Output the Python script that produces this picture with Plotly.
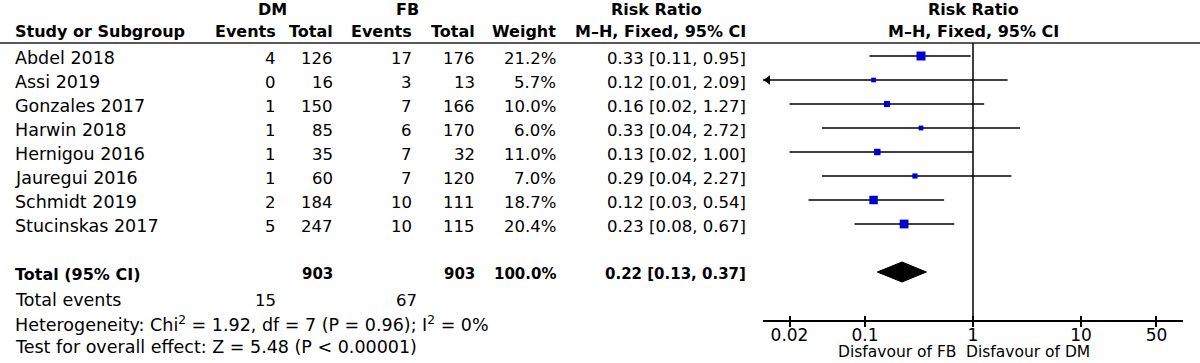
import math
import plotly.graph_objects as go

# ---------------- data ----------------
studies = ["Abdel 2018", "Assi 2019", "Gonzales 2017", "Harwin 2018",
           "Hernigou 2016", "Jauregui 2016", "Schmidt 2019", "Stucinskas 2017"]
dm_events = [4, 0, 1, 1, 1, 1, 2, 5]
dm_total = [126, 16, 150, 85, 35, 60, 184, 247]
fb_events = [17, 3, 7, 6, 7, 7, 10, 10]
fb_total = [176, 13, 166, 170, 32, 120, 111, 115]
weights = [21.2, 5.7, 10.0, 6.0, 11.0, 7.0, 18.7, 20.4]
rr = [0.33, 0.12, 0.16, 0.33, 0.13, 0.29, 0.12, 0.23]
ci_low = [0.11, 0.01, 0.02, 0.04, 0.02, 0.04, 0.03, 0.08]
ci_high = [0.95, 2.09, 1.27, 2.72, 1.00, 2.27, 0.54, 0.67]
pooled_rr = 0.22
pooled_low = 0.13
pooled_high = 0.37
tick_vals = [0.02, 0.1, 1, 10, 50]
tick_text = ["0.02", "0.1", "1", "10", "50"]
heterogeneity_text = "Heterogeneity: Chi<sup>2</sup> = 1.92, df = 7 (P = 0.96); I<sup>2</sup> = 0%"
overall_text = "Test for overall effect: Z = 5.48 (P < 0.00001)"
left_label = "Disfavour of FB"
right_label = "Disfavour of DM"

# ---------------- layout geometry (pixels) ----------------
W, H = 1200, 363
ROW0, ROWH = 56, 24          # pixel of first study row, row spacing
X_ONE, DEC = 973, 108        # pixel of RR=1, pixels per decade
AX_L, AX_R = 763, 1183       # forest axis extent
AX_Y = 321                   # forest axis line pixel
HEAD_LINE = 43
LEFT = 13

FONT = "DejaVu Sans"
REG_T = 17.5
REG_N = 16.5
BOLD_H = 16
BOLD_N = 15

def row_of(px):
    return (px - ROW0) / ROWH

x_range = [(AX_L - X_ONE) / DEC, (AX_R - X_ONE) / DEC]
y_range = [row_of(H), row_of(0)]

fig = go.Figure()

n = len(studies)
rows = list(range(n))
total_row = n + 1

# CI lines
xmin = 10 ** x_range[0]
lx, ly = [], []
for i in rows:
    lx += [max(ci_low[i], xmin), ci_high[i], None]
    ly += [i, i, None]
fig.add_trace(go.Scatter(x=lx, y=ly, mode="lines",
                         line=dict(color="black", width=1.3),
                         hoverinfo="skip", showlegend=False))

# arrows for truncated CIs
arr_x = [10 ** (x_range[0] + 4.9 / DEC) for i in rows if ci_low[i] < xmin]
arr_y = [i for i in rows if ci_low[i] < xmin]
fig.add_trace(go.Scatter(x=arr_x, y=arr_y, mode="markers",
                         marker=dict(symbol="triangle-left", size=8.5, color="black",
                                     line=dict(width=0)),
                         hoverinfo="skip", showlegend=False))

# study squares
fig.add_trace(go.Scatter(x=rr, y=rows, mode="markers",
                         marker=dict(symbol="square", color="#0000cc", opacity=1,
                                     size=[1.95 * math.sqrt(w) for w in weights],
                                     line=dict(width=0)),
                         hoverinfo="skip", showlegend=False))

# pooled diamond
dh = 10 / ROWH
fig.add_trace(go.Scatter(x=[pooled_low, pooled_rr, pooled_high, pooled_rr, pooled_low],
                         y=[total_row, total_row - dh, total_row, total_row + dh, total_row],
                         mode="lines", fill="toself", fillcolor="black",
                         line=dict(color="black", width=1),
                         hoverinfo="skip", showlegend=False))

# line of no effect
fig.add_trace(go.Scatter(x=[1, 1], y=[row_of(HEAD_LINE), row_of(AX_Y)], mode="lines",
                         line=dict(color="black", width=1.5),
                         hoverinfo="skip", showlegend=False))

# invisible trace for secondary (upward ticks) axis
fig.add_trace(go.Scatter(x=[1], y=[0], xaxis="x2", mode="markers",
                         marker=dict(opacity=0), hoverinfo="skip", showlegend=False))

anns = []

def ann(text, xpx, row, anchor="right", bold=False, size=REG_N):
    t = f"<b>{text}</b>" if bold else text
    anns.append(dict(text=t, x=xpx / W, xref="paper", y=row, yref="y",
                     xanchor=anchor, yanchor="middle", showarrow=False,
                     font=dict(family=FONT, size=size, color="black")))

TOFF = 2 / ROWH
# headers
hr1, hr2 = row_of(9.5), row_of(31)
ann("DM", 272, hr1, "center", True, BOLD_H)
ann("FB", 407, hr1, "center", True, BOLD_H)
ann("Risk Ratio", 656, hr1, "center", True, BOLD_H)
ann("Risk Ratio", X_ONE, hr1, "center", True, BOLD_H)
ann("Study or Subgroup", LEFT, hr2, "left", True, BOLD_H)
ann("Events", 278, hr2, "right", True, BOLD_H)
ann("Total", 335, hr2, "right", True, BOLD_H)
ann("Events", 414, hr2, "right", True, BOLD_H)
ann("Total", 477, hr2, "right", True, BOLD_H)
ann("Weight", 558, hr2, "right", True, BOLD_H)
ann("M\u2013H, Fixed, 95% CI", 748, hr2, "right", True, BOLD_H)
ann("M\u2013H, Fixed, 95% CI", X_ONE, hr2, "center", True, BOLD_H)

# study rows
for i in rows:
    r = i + TOFF
    ann(studies[i], LEFT, r, "left", size=REG_T)
    ann(str(dm_events[i]), 278, r)
    ann(str(dm_total[i]), 335, r)
    ann(str(fb_events[i]), 414, r)
    ann(str(fb_total[i]), 477, r)
    ann(f"{weights[i]:.1f}%", 558, r)
    ann(f"{rr[i]:.2f} [{ci_low[i]:.2f}, {ci_high[i]:.2f}]", 748, r)

# total row
tr = total_row + TOFF
ann("Total (95% CI)", LEFT, tr, "left", True, BOLD_H)
ann(str(sum(dm_total)), 335, tr, "right", True, BOLD_N)
ann(str(sum(fb_total)), 477, tr, "right", True, BOLD_N)
ann(f"{sum(weights):.1f}%", 558, tr, "right", True, BOLD_N)
ann(f"{pooled_rr:.2f} [{pooled_low:.2f}, {pooled_high:.2f}]", 748, tr, "right", True, BOLD_N)

er = row_of(300)
ann("Total events", LEFT, er, "left", size=REG_T)
ann(str(sum(dm_events)), 278, er)
ann(str(sum(fb_events)), 419, er)
ann(heterogeneity_text, LEFT, row_of(323.5), "left", size=REG_T)
ann(overall_text, LEFT, row_of(346.5), "left", size=REG_T)

# favour labels (sit on the bottom edge)
for txt, xp, anc in [(left_label, 958, "right"), (right_label, 964, "left")]:
    anns.append(dict(text=txt, x=xp / W, xref="paper", y=0, yref="paper",
                     xanchor=anc, yanchor="bottom", yshift=0, showarrow=False,
                     font=dict(family=FONT, size=15.5, color="black")))

shapes = [dict(type="line", xref="paper", yref="paper", x0=0, x1=1,
               y0=(H - HEAD_LINE) / H, y1=(H - HEAD_LINE) / H,
               line=dict(color="#222", width=1.5))]

axis_common = dict(type="log", range=x_range, domain=[AX_L / W, AX_R / W],
                   anchor="free", position=(H - AX_Y) / H,
                   showgrid=False, zeroline=False, fixedrange=True)

fig.update_layout(
    width=W, height=H,
    margin=dict(l=0, r=0, t=0, b=0),
    paper_bgcolor="white", plot_bgcolor="white",
    showlegend=False,
    xaxis=dict(**axis_common, showline=True, linecolor="black", linewidth=1.5,
               ticks="outside", ticklen=5, tickwidth=1.5, tickcolor="black",
               tickvals=tick_vals, ticktext=tick_text, ticklabelstandoff=-6,
               tickfont=dict(family=FONT, size=17, color="black")),
    xaxis2=dict(**axis_common, overlaying="x", side="bottom", showline=False,
                ticks="inside", ticklen=5, tickwidth=1.5, tickcolor="black",
                tickvals=tick_vals, showticklabels=False),
    yaxis=dict(range=y_range, domain=[0, 1], visible=False, fixedrange=True),
    annotations=anns,
    shapes=shapes,
)

fig.write_html(
    "out.html",
    config={"displayModeBar": False},
    post_script="document.body.style.margin='0px';document.body.style.overflow='hidden';",
)
